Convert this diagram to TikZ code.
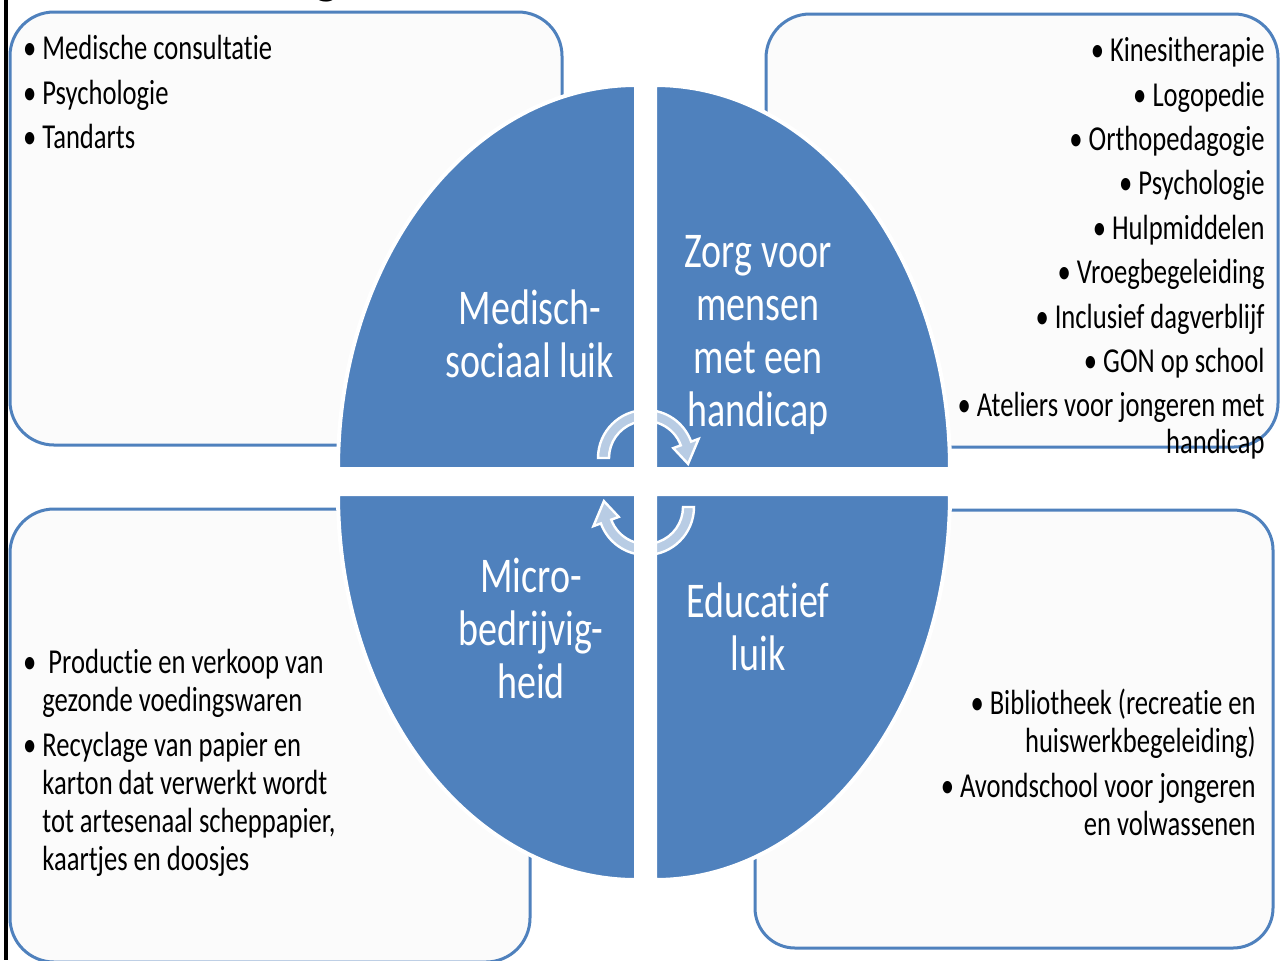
\documentclass[tikz,border=0pt]{standalone}
\usepackage{fontspec}
\setmainfont{Carlito}[FakeStretch=0.76, Ligatures=NoCommon]
\definecolor{luikblue}{HTML}{4F81BD}
\definecolor{boxgrey}{HTML}{FBFBFB}
\tikzset{
    luikbox/.style={draw=luikblue, line width=1.5pt, fill=boxgrey, rounded corners=22pt},
    quadrant/.style={fill=luikblue, draw=white, line width=2pt},
    quadlabel/.style={text=white, align=center, inner sep=0pt,
        font=\fontsize{25}{26.5}\selectfont},
    itemlist/.style={inner sep=0pt, font=\fontsize{17.5}{18.5}\selectfont},
    cyclearrow/.style={fill=white, fill opacity=0.6, draw=white, line width=1.2pt}
}
\newcommand{\hangbullet}{\llap{\textbullet\ }}

\begin{document}
\begin{tikzpicture}[x=0.5pt, y=-0.5pt]
    \useasboundingbox (0,0) rectangle (1280,960);
    \clip (0,0) rectangle (1280,960);
    \fill[white] (0,0) rectangle (1280,960);
    \node[anchor=base, font=\bfseries\fontsize{40}{40}\selectfont] (titlefrag) at (327,-12) {g};
    \draw[line width=2pt] (6,0) -- (6,960);

    % side boxes
    \draw[luikbox] (10,12) rectangle (562,445);
    \draw[luikbox] (766,14) rectangle (1278,447);
    \draw[luikbox] (10,509) rectangle (530,962);
    \draw[luikbox, rounded corners=20pt] (755,510) rectangle (1273,948);

    % four quadrants
    \filldraw[quadrant] (636,469) -- (338,469) arc[start angle=180, end angle=270, x radius=298, y radius=384] -- cycle;
    \filldraw[quadrant] (655,469) -- (655,85) arc[start angle=270, end angle=360, x radius=295, y radius=384] -- cycle;
    \filldraw[quadrant] (636,494) -- (338,494) arc[start angle=180, end angle=90, x radius=298, y radius=386] -- cycle;
    \filldraw[quadrant] (655,494) -- (950,494) arc[start angle=0, end angle=90, x radius=295, y radius=386] -- cycle;

    \node[quadlabel] (medisch) at (530,334) {Medisch-\\sociaal luik};
    \node[quadlabel] (zorg) at (758,335) {Zorg voor\\mensen\\met een\\handicap};
    \node[quadlabel] (micro) at (531,628) {Micro-\\bedrijvig-\\heid};
    \node[quadlabel] (educatief) at (758,627) {Educatief\\luik};

    % cycle arrows
    \filldraw[cyclearrow, shift={(646,458)}] (180:48) arc[start angle=180, end angle=340, radius=48]
        -- (340:56) -- (368:42.5) -- (340:29) -- (340:37)
        arc[start angle=340, end angle=180, radius=37] -- cycle;
    \filldraw[cyclearrow, shift={(646,507)}] (0:48) arc[start angle=0, end angle=160, radius=48]
        -- (160:56) -- (188:42.5) -- (160:29) -- (160:37)
        arc[start angle=160, end angle=0, radius=37] -- cycle;

    % item lists
    \node[itemlist, anchor=north west, align=left] (medlist) at (42,35)
        {\hangbullet Medische consultatie\\[3.8pt]
         \hangbullet Psychologie\\[3.8pt]
         \hangbullet Tandarts};
    \node[itemlist, anchor=north east, align=right] (zorglist) at (1265,37)
        {\textbullet\ Kinesitherapie\\[3.7pt]
         \textbullet\ Logopedie\\[3.7pt]
         \textbullet\ Orthopedagogie\\[3.7pt]
         \textbullet\ Psychologie\\[3.7pt]
         \textbullet\ Hulpmiddelen\\[3.7pt]
         \textbullet\ Vroegbegeleiding\\[3.7pt]
         \textbullet\ Inclusief dagverblijf\\[3.7pt]
         \textbullet\ GON op school\\[3.7pt]
         \textbullet\ Ateliers voor jongeren met\\
         handicap};
    \node[itemlist, anchor=north west, align=left,
          font=\fontsize{17.5}{19}\selectfont] (microlist) at (42,649)
        {\hangbullet\ Productie en verkoop van\\
         gezonde voedingswaren\\[3.5pt]
         \hangbullet Recyclage van papier en\\
         karton dat verwerkt wordt\\
         tot artesenaal scheppapier,\\
         kaartjes en doosjes};
    \node[itemlist, anchor=north east, align=right,
          font=\fontsize{17.5}{19}\selectfont] (edulist) at (1256,689)
        {\textbullet\ Bibliotheek (recreatie en\\
         huiswerkbegeleiding)\\[3.5pt]
         \textbullet\ Avondschool voor jongeren\\
         en volwassenen};
\end{tikzpicture}
\end{document}
